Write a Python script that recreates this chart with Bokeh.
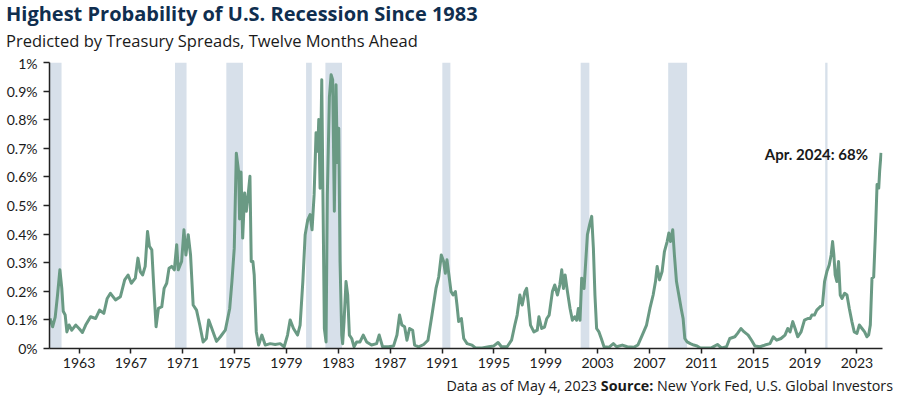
from bokeh.plotting import figure
from bokeh.models import Label, FixedTicker, CustomJSTickFormatter, Div
from bokeh.layouts import column
from bokeh.embed import file_html
from bokeh.resources import INLINE

years = [1960.76, 1960.96, 1961.16, 1961.34, 1961.52, 1961.67, 1961.78, 1961.93, 1962.06, 1962.23,
         1962.44, 1962.74, 1963.00, 1963.26, 1963.51, 1963.89, 1964.28, 1964.58, 1964.91, 1965.17,
         1965.42, 1965.81, 1966.19, 1966.52, 1966.78, 1967.03, 1967.34, 1967.54, 1967.72, 1967.90,
         1968.10, 1968.28, 1968.43, 1968.61, 1968.77, 1968.94, 1969.12, 1969.38, 1969.56, 1969.76,
         1969.94, 1970.14, 1970.35, 1970.53, 1970.65, 1970.91, 1971.09, 1971.24, 1971.42, 1971.60,
         1971.80, 1972.06, 1972.31, 1972.57, 1972.82, 1973.00, 1973.20, 1973.40, 1973.60, 1973.90,
         1974.28, 1974.62, 1974.79, 1974.97, 1975.13, 1975.31, 1975.38, 1975.49, 1975.62, 1975.77,
         1975.90, 1976.03, 1976.18, 1976.28, 1976.41, 1976.51, 1976.67, 1976.85, 1977.10, 1977.36,
         1977.74, 1978.13, 1978.51, 1978.82, 1979.08, 1979.28, 1979.54, 1979.85, 1980.05, 1980.26,
         1980.44, 1980.64, 1980.82, 1980.97, 1981.13, 1981.28, 1981.41, 1981.49, 1981.59, 1981.72,
         1981.82, 1981.92, 1982.05, 1982.15, 1982.31, 1982.44, 1982.56, 1982.69, 1982.82, 1982.92,
         1983.03, 1983.13, 1983.26, 1983.33, 1983.44, 1983.59, 1983.72, 1983.85, 1984.03, 1984.21,
         1984.41, 1984.67, 1984.92, 1985.18, 1985.56, 1985.95, 1986.15, 1986.41, 1986.87, 1987.26,
         1987.52, 1987.72, 1987.90, 1988.11, 1988.29, 1988.49, 1988.73, 1988.88, 1989.19, 1989.58,
         1989.91, 1990.22, 1990.53, 1990.74, 1990.94, 1991.12, 1991.25, 1991.38, 1991.51, 1991.69,
         1991.85, 1992.03, 1992.15, 1992.28, 1992.49, 1992.67, 1992.93, 1993.31, 1993.57, 1994.09,
         1994.60, 1994.99, 1995.32, 1995.58, 1996.02, 1996.36, 1996.61, 1996.79, 1997.00, 1997.18,
         1997.39, 1997.52, 1997.64, 1997.82, 1998.08, 1998.34, 1998.47, 1998.68, 1998.90, 1999.08,
         1999.26, 1999.51, 1999.69, 1999.90, 2000.08, 2000.23, 2000.36, 2000.49, 2000.67, 2000.87,
         2001.05, 2001.23, 2001.38, 2001.51, 2001.64, 2001.77, 2001.95, 2002.08, 2002.21, 2002.38,
         2002.54, 2002.67, 2002.79, 2002.92, 2003.10, 2003.28, 2003.49, 2003.87, 2004.21, 2004.46,
         2004.90, 2005.28, 2005.79, 2006.10, 2006.44, 2006.77, 2007.03, 2007.28, 2007.46, 2007.59,
         2007.77, 2007.97, 2008.15, 2008.36, 2008.49, 2008.62, 2008.79, 2008.92, 2009.08, 2009.26,
         2009.44, 2009.59, 2009.72, 2009.90, 2010.15, 2010.41, 2010.67, 2010.92, 2011.44, 2011.77,
         2012.24, 2012.55, 2012.94, 2013.19, 2013.58, 2013.79, 2014.05, 2014.30, 2014.61, 2014.87,
         2015.13, 2015.52, 2015.90, 2016.29, 2016.55, 2016.81, 2017.14, 2017.45, 2017.66, 2017.84,
         2018.05, 2018.23, 2018.43, 2018.69, 2018.95, 2019.21, 2019.39, 2019.52, 2019.72, 2019.90,
         2020.16, 2020.34, 2020.50, 2020.68, 2020.86, 2021.01, 2021.12, 2021.22, 2021.32, 2021.45,
         2021.58, 2021.71, 2021.84, 2022.05, 2022.23, 2022.41, 2022.61, 2022.79, 2023.00, 2023.18,
         2023.39, 2023.59, 2023.77, 2023.90, 2024.03, 2024.16, 2024.29, 2024.42, 2024.55, 2024.68,
         2024.75, 2024.86]

prob = [0.105, 0.076, 0.110, 0.187, 0.275, 0.210, 0.130, 0.117, 0.058, 0.082,
        0.064, 0.082, 0.070, 0.056, 0.082, 0.111, 0.105, 0.134, 0.123, 0.175,
        0.193, 0.170, 0.181, 0.240, 0.257, 0.228, 0.246, 0.316, 0.269, 0.257,
        0.287, 0.409, 0.357, 0.345, 0.210, 0.076, 0.140, 0.146, 0.210, 0.228,
        0.281, 0.287, 0.275, 0.363, 0.275, 0.304, 0.415, 0.327, 0.398, 0.327,
        0.152, 0.134, 0.082, 0.023, 0.035, 0.100, 0.075, 0.050, 0.025, 0.041,
        0.064, 0.140, 0.234, 0.350, 0.683, 0.617, 0.453, 0.617, 0.386, 0.544,
        0.480, 0.532, 0.602, 0.304, 0.304, 0.257, 0.058, 0.012, 0.047, 0.012,
        0.017, 0.014, 0.017, 0.006, 0.047, 0.100, 0.070, 0.047, 0.082, 0.234,
        0.398, 0.450, 0.468, 0.415, 0.538, 0.754, 0.690, 0.801, 0.560, 0.940,
        0.500, 0.070, 0.023, 0.538, 0.880, 0.957, 0.940, 0.480, 0.922, 0.650,
        0.770, 0.304, 0.047, 0.017, 0.094, 0.234, 0.187, 0.047, 0.035, 0.006,
        0.023, 0.023, 0.047, 0.023, 0.012, 0.017, 0.047, 0.006, 0.006, 0.009,
        0.047, 0.117, 0.082, 0.076, 0.029, 0.070, 0.064, 0.012, 0.006, 0.014,
        0.029, 0.117, 0.210, 0.250, 0.327, 0.304, 0.263, 0.310, 0.263, 0.199,
        0.187, 0.199, 0.152, 0.094, 0.105, 0.035, 0.017, 0.012, 0.002, 0.002,
        0.006, 0.009, 0.021, 0.006, 0.006, 0.029, 0.082, 0.117, 0.187, 0.152,
        0.199, 0.210, 0.164, 0.082, 0.058, 0.064, 0.111, 0.070, 0.075, 0.105,
        0.117, 0.199, 0.222, 0.187, 0.222, 0.275, 0.210, 0.257, 0.199, 0.140,
        0.099, 0.111, 0.099, 0.140, 0.099, 0.246, 0.210, 0.304, 0.398, 0.433,
        0.462, 0.351, 0.187, 0.070, 0.058, 0.035, 0.006, 0.004, 0.017, 0.006,
        0.012, 0.006, 0.004, 0.012, 0.047, 0.082, 0.140, 0.187, 0.234, 0.287,
        0.240, 0.269, 0.339, 0.374, 0.404, 0.374, 0.415, 0.327, 0.234, 0.187,
        0.140, 0.105, 0.035, 0.023, 0.017, 0.012, 0.009, 0.002, 0.002, 0.002,
        0.014, 0.002, 0.006, 0.035, 0.041, 0.053, 0.070, 0.058, 0.047, 0.029,
        0.009, 0.006, 0.012, 0.017, 0.041, 0.029, 0.035, 0.047, 0.070, 0.058,
        0.094, 0.070, 0.041, 0.058, 0.099, 0.105, 0.105, 0.117, 0.117, 0.134,
        0.146, 0.152, 0.234, 0.269, 0.292, 0.327, 0.374, 0.327, 0.257, 0.234,
        0.304, 0.187, 0.175, 0.193, 0.187, 0.140, 0.094, 0.058, 0.053, 0.082,
        0.070, 0.058, 0.041, 0.047, 0.082, 0.246, 0.250, 0.398, 0.573, 0.561,
        0.620, 0.684]

rec_start = [1960.70, 1970.40, 1974.36, 1980.51, 1982.00, 1991.02, 2001.69, 2008.44, 2020.55]
rec_end = [1961.65, 1971.29, 1975.64, 1980.95, 1983.28, 1991.64, 2002.36, 2009.90, 2020.73]

tick_years = [1963, 1967, 1971, 1975, 1979, 1983, 1987, 1991, 1995, 1999, 2003, 2007, 2011, 2015, 2019, 2023]
y_ticks = [0, 0.1, 0.2, 0.3, 0.4, 0.5, 0.6, 0.7, 0.8, 0.9, 1.0]

title_text = "Highest Probability of U.S. Recession Since 1983"
subtitle_text = "Predicted by Treasury Spreads, Twelve Months Ahead"
note_text = "Apr. 2024: 68%"
note_x, note_y = 2023.85, 0.68
footer_a = "Data as of May 4, 2023"
footer_b = "Source:"
footer_c = "New York Fed, U.S. Global Investors"

LINE = "#6a9a84"
BAND = "#d7e0ea"
NAVY = "#0f2e4f"
FONT = "Lato"
HFONT = "Open Sans"
TXT = "#1a1a1a"

title_div = Div(text=f'<div style="font-family:\'{HFONT}\';font-weight:bold;font-size:20px;color:{NAVY};'
                     f'line-height:26px;padding-top:1px;padding-left:6px;white-space:nowrap;">{title_text}</div>',
                width=900, height=28, margin=(0, 0, 0, 0))
subtitle_div = Div(text=f'<div style="font-family:\'{HFONT}\';font-size:16.5px;color:{TXT};'
                        f'line-height:26px;padding-left:6px;white-space:nowrap;">{subtitle_text}</div>',
                   width=900, height=26, margin=(0, 0, 0, 0))
footer_div = Div(text=f'<div style="font-family:\'{HFONT}\';font-size:14.3px;color:{TXT};line-height:20px;'
                      f'text-align:right;width:893px;white-space:nowrap;">{footer_a} '
                      f'<b>{footer_b}</b> {footer_c}</div>',
                 width=900, height=22, margin=(0, 0, 0, 0))

p = figure(width=900, height=322, x_range=(1960.72, 2024.97), y_range=(0, 1),
           output_backend="svg", toolbar_location=None, title=None, margin=(0, 0, 0, 0),
           min_border_left=49, min_border_right=18, min_border_top=8, min_border_bottom=28)
p.outline_line_color = None
p.xgrid.visible = False
p.ygrid.visible = False
p.background_fill_color = "white"

p.quad(left=rec_start, right=rec_end, bottom=0, top=1, fill_color=BAND, line_color=None)
p.line(years, prob, line_width=3, line_color=LINE, line_join="round")

xa = p.xaxis[0]
xa.ticker = FixedTicker(ticks=tick_years)
xa.minor_tick_line_color = None
xa.major_tick_in = 0
xa.major_tick_out = 5
xa.major_label_standoff = 4
xa.axis_line_color = "#222222"
xa.axis_line_width = 1.5
xa.major_tick_line_color = "#222222"
xa.major_tick_line_width = 1.5
xa.major_label_text_font = FONT
xa.major_label_text_font_size = "14px"
xa.major_label_text_color = TXT

ya = p.yaxis[0]
ya.ticker = FixedTicker(ticks=y_ticks)
ya.formatter = CustomJSTickFormatter(code="return (Math.round(tick*10)/10) + '%';")
ya.minor_tick_line_color = None
ya.major_tick_in = 0
ya.major_tick_out = 6
ya.major_label_standoff = 6
ya.axis_line_color = "#222222"
ya.axis_line_width = 1.5
ya.major_tick_line_color = "#222222"
ya.major_tick_line_width = 1.5
ya.major_label_text_font = FONT
ya.major_label_text_font_size = "14px"
ya.major_label_text_color = TXT

p.add_layout(Label(x=note_x, y=note_y, text=note_text, text_font=FONT, text_font_style="bold",
                   text_font_size="15px", text_color=TXT, text_align="right",
                   text_baseline="middle"))

layout = column(title_div, subtitle_div, p, footer_div, spacing=0, margin=(0, 0, 0, 0))
open("out.html", "w").write(file_html(layout, INLINE))
